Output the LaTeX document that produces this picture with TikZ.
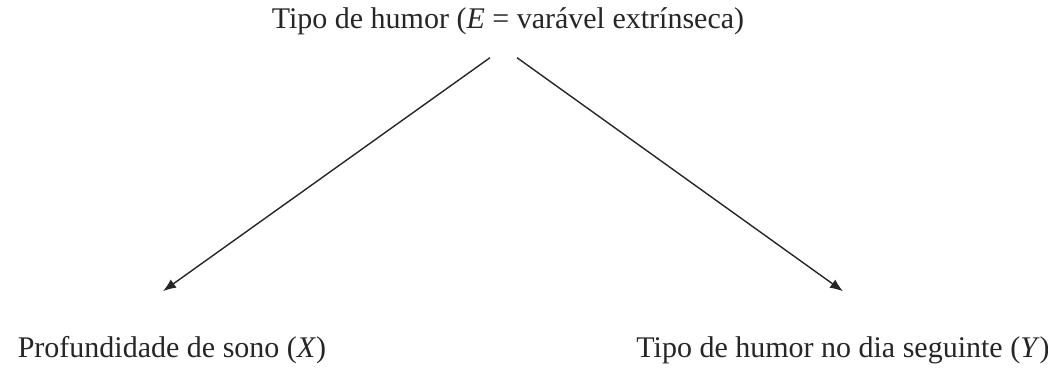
\documentclass[tikz,border=0pt]{standalone}
\usepackage{fontspec}
\setmainfont{Liberation Serif}
\usetikzlibrary{positioning}
\usetikzlibrary{arrows.meta}

\begin{document}
\begin{tikzpicture}[x=0.5pt, y=-0.5pt,
    every node/.style={font=\fontsize{15}{17}\selectfont, text=black!85},
    arr/.style={-{Latex[length=6.5pt,width=5pt]}, line width=0.7pt, black!85}]
    \useasboundingbox (0,0) rectangle (1048,369);
    % variables
    \node (mood) at (508,21) {Tipo de humor (\textit{E} = varável extrínseca)};
    \node (sleep) at (172,350) {Profundidade de sono (\textit{X})};
    \node (next) at (843,350) {Tipo de humor no dia seguinte (\textit{Y})};

    % arrows
    \draw[arr] ([xshift=-9pt,yshift=-8pt]mood.south) -- ([xshift=-4.5pt,yshift=19pt]sleep.north);
    \draw[arr] ([xshift=4.5pt,yshift=-8pt]mood.south) -- ([yshift=19pt]next.north);
\end{tikzpicture}
\end{document}
